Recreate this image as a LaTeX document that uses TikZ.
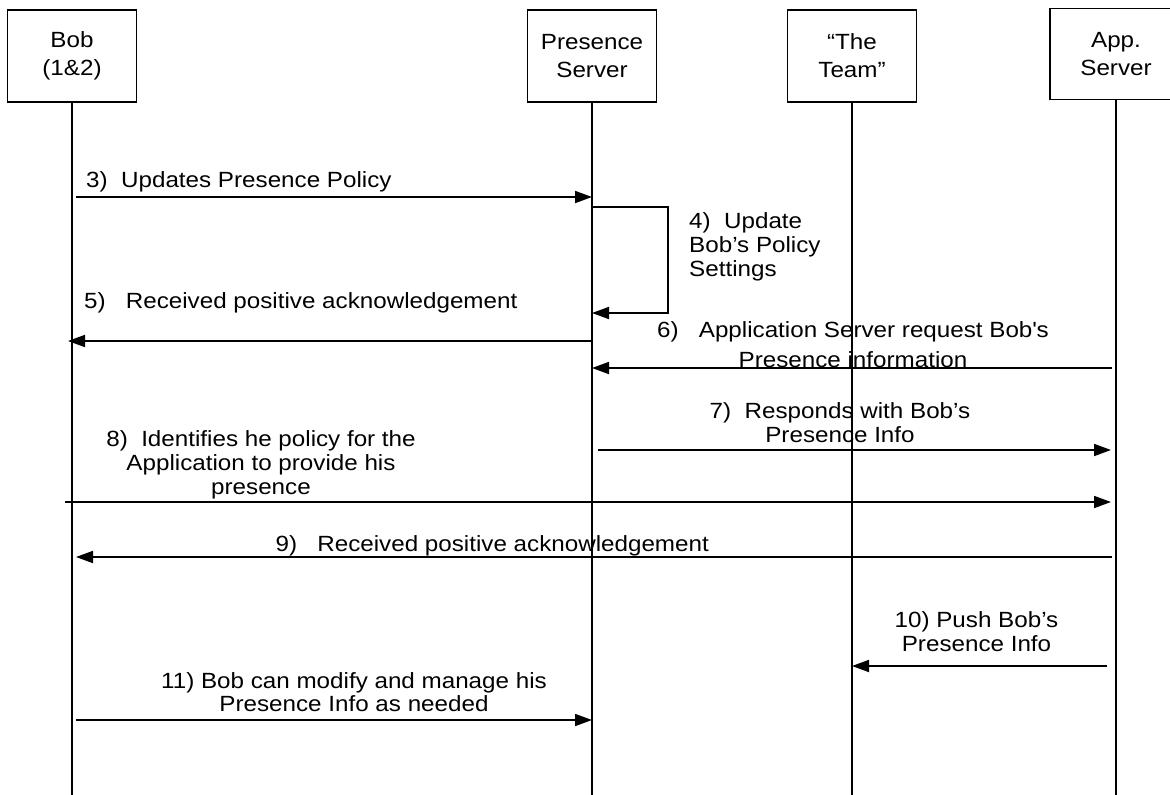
\documentclass[tikz,border=0pt]{standalone}
\usepackage{fontspec}
\setmainfont{Liberation Sans}[FakeStretch=1.1]
\usetikzlibrary{arrows.meta,calc}
\begin{document}
\begin{tikzpicture}[x=1pt,y=-1pt,
  lbl/.style={font=\fontsize{22}{24}\selectfont, inner sep=0pt, align=center},
  lblL/.style={font=\fontsize{22}{24}\selectfont, inner sep=0pt, align=left},
  actor/.style={draw, line width=1.8pt, minimum width=129pt, minimum height=92pt,
    inner sep=0pt, align=center, font=\fontsize{22}{28}\selectfont},
  life/.style={line width=1.7pt},
  msg/.style={line width=1.8pt, -{Triangle[length=17pt,width=12pt]}},
  ]
\useasboundingbox (0,0) rectangle (1170,795);
\fill[white] (0,0) rectangle (1170,795);
\clip (0,0) rectangle (1170,795);
% actors
\node[actor] (bob) at (72,56) {Bob\\(1\&2)};
\node[actor] (ps) at (592,56) {Presence\\Server};
\node[actor] (team) at (852,56) {“The\\Team”};
\node[actor, minimum width=132pt, minimum height=91pt] (app) at (1116,54) {App.\\Server};
% lifelines
\coordinate (bobE) at (bob.south |- 0,795);
\coordinate (psE) at (ps.south |- 0,795);
\coordinate (teamE) at (team.south |- 0,795);
\coordinate (appE) at (app.south |- 0,795);
\draw[life] (bob) -- (bobE);
\draw[life] (ps) -- (psE);
\draw[life] (team) -- (teamE);
\draw[life] (app) -- (appE);
% 3
\draw[msg] ($(bob.south |- 0,197)+(4,0)$) -- (ps.south |- 0,197);
\node[lblL, anchor=base west] (t3) at (86,187) {3)~~Updates Presence Policy};
% 4 self loop
\draw[msg] (ps.south |- 0,207) -- ++(76,0) -- ++(0,106) -- (ps.south |- 0,313);
\node[lblL, anchor=base west] (t4) at (689,276) {4)~~Update\\Bob’s Policy\\Settings};
% 5
\draw[msg] (ps.south |- 0,341) -- ($(bob.south |- 0,341)+(-4,0)$);
\node[lblL, anchor=base west] (t5) at (84,308) {5)~~~Received positive acknowledgement};
% 6
\draw[msg] ($(app.south |- 0,368)+(-4,0)$) -- (ps.south |- 0,368);
\node[lbl, font=\fontsize{22}{30}\selectfont, anchor=base] (t6) at (853,367) {6)~~~Application Server request Bob\textquotesingle s\\Presence information};
% 7
\draw[msg] ($(ps.south |- 0,450)+(6,0)$) -- ($(app.south |- 0,450)+(-5,0)$);
\node[lbl, anchor=base] (t7) at (840,442) {7)~~Responds with Bob’s\\Presence Info};
% 8
\draw[msg] ($(bob.south |- 0,502)+(-7,0)$) -- ($(app.south |- 0,502)+(-5,0)$);
\node[lbl, anchor=base] (t8) at (261,494) {8)~~Identifies he policy for the\\Application to provide his\\presence};
% 9
\draw[msg] ($(app.south |- 0,557)+(-4,0)$) -- ($(bob.south |- 0,557)+(4,0)$);
\node[lblL, anchor=base west] (t9) at (275.5,551) {9)~~~Received positive acknowledgement};
% 10
\draw[msg] ($(app.south |- 0,666)+(-9,0)$) -- (team.south |- 0,666);
\node[lbl, anchor=base] (t10) at (976.5,651) {10)~Push Bob’s\\Presence Info};
% 11
\draw[msg] ($(bob.south |- 0,720)+(4,0)$) -- (ps.south |- 0,720);
\node[lbl, font=\fontsize{22}{23}\selectfont, anchor=base] (t11) at (354,711) {11)~Bob can modify and manage his\\Presence Info as needed};
\end{tikzpicture}
\end{document}
